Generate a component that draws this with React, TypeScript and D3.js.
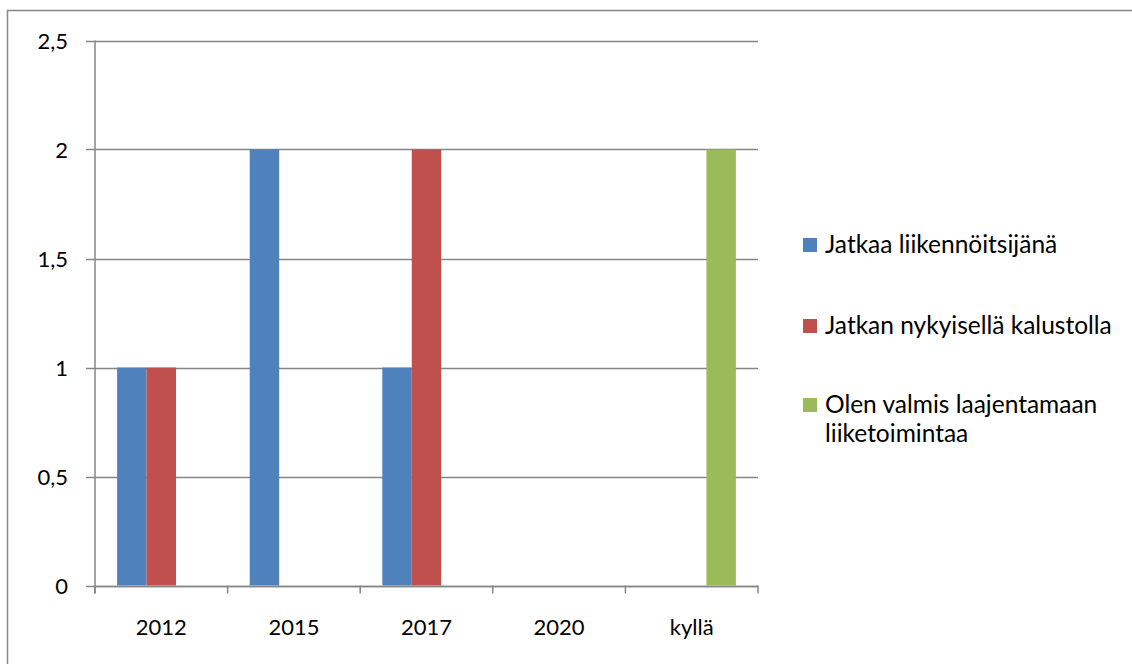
import React from "react";
import * as d3 from "d3";

const categories: string[] = ["2012", "2015", "2017", "2020", "kyllä"];
const seriesNames: string[] = [
  "Jatkaa liikennöitsijänä",
  "Jatkan nykyisellä kalustolla",
  "Olen valmis laajentamaan liiketoimintaa",
];
const seriesJatkaa: number[] = [1, 2, 1, 0, 0];
const seriesKalusto: number[] = [1, 0, 2, 0, 0];
const seriesLaajentaa: number[] = [0, 0, 0, 0, 2];
const seriesColors: string[] = ["#4F81BD", "#C0504D", "#9BBB59"];
const yTicks: number[] = [0, 0.5, 1, 1.5, 2, 2.5];

const W = 1132;
const H = 664;
const FONT = "Lato, 'Open Sans', sans-serif";
const FS = 22;
const LFS = 24.5;

function wrap(text: string, maxW: number): string[] {
  const c = document.createElement("canvas").getContext("2d");
  if (!c) return [text];
  c.font = `${LFS}px Lato`;
  const words = text.split(" ");
  const lines: string[] = [];
  let cur = "";
  for (const w of words) {
    const t = cur ? cur + " " + w : w;
    if (c.measureText(t).width > maxW && cur) {
      lines.push(cur);
      cur = w;
    } else cur = t;
  }
  if (cur) lines.push(cur);
  return lines;
}

export default function App() {
  const series = [seriesJatkaa, seriesKalusto, seriesLaajentaa];
  const left = 95, right = 758, top = 40.5, bottom = 585.5;
  const x0 = d3.scaleBand<string>().domain(categories).range([left, right]).paddingInner(1 / 3).paddingOuter(1 / 6);
  const x1 = d3.scaleBand<number>().domain([0, 1, 2]).range([0, x0.bandwidth()]);
  const y = d3.scaleLinear().domain([0, 2.5]).range([bottom, top]);
  const step = (right - left) / categories.length;
  const grid = "#868686";
  const fmt = (v: number) => String(v).replace(".", ",");
  const legendY = [245, 326, 405];

  return (
    <svg width={W} height={H} style={{ position: "absolute", left: 0, top: 0, background: "#fff" }} fontFamily={FONT}>
      <rect x={7.5} y={10.5} width={W + 20} height={H + 20} fill="#fff" stroke="#878787" strokeWidth={1.5} />
      {yTicks.map((t) => (
        <g key={t}>
          <line x1={86} x2={right} y1={Math.round(y(t)) + 0.5} y2={Math.round(y(t)) + 0.5} stroke={grid} strokeWidth={1.5} />
          <text x={68} y={y(t) + 8} textAnchor="end" fontSize={FS} fill="#000">{fmt(t)}</text>
        </g>
      ))}
      <line x1={left} x2={left} y1={top} y2={bottom + 8} stroke={grid} strokeWidth={1.5} />
      {d3.range(categories.length + 1).map((i) => (
        <line key={i} x1={left + i * step} x2={left + i * step} y1={bottom} y2={bottom + 8} stroke={grid} strokeWidth={1.5} />
      ))}
      {categories.map((c, ci) => (
        <g key={c}>
          {series.map((s, si) =>
            s[ci] > 0 ? (
              <rect key={si} x={(x0(c) ?? 0) + (x1(si) ?? 0)} y={y(s[ci])} width={x1.bandwidth()} height={y(0) - y(s[ci])} fill={seriesColors[si]} />
            ) : null
          )}
          <text x={(x0(c) ?? 0) + x0.bandwidth() / 2} y={635} textAnchor="middle" fontSize={FS} fill="#000">{c}</text>
        </g>
      ))}
      <line x1={left} x2={right} y1={Math.round(y(0)) + 0.5} y2={Math.round(y(0)) + 0.5} stroke={grid} strokeWidth={1.5} />
      {seriesNames.map((n, i) => {
        const lines = wrap(n, 300);
        return (
          <g key={n}>
            <rect x={803} y={legendY[i] - 7} width={14} height={14} fill={seriesColors[i]} />
            <text x={825} y={legendY[i] + 8} fontSize={LFS} fill="#000">
              {lines.map((l, li) => (
                <tspan key={li} x={825} dy={li === 0 ? 0 : 29}>{l}</tspan>
              ))}
            </text>
          </g>
        );
      })}
    </svg>
  );
}
